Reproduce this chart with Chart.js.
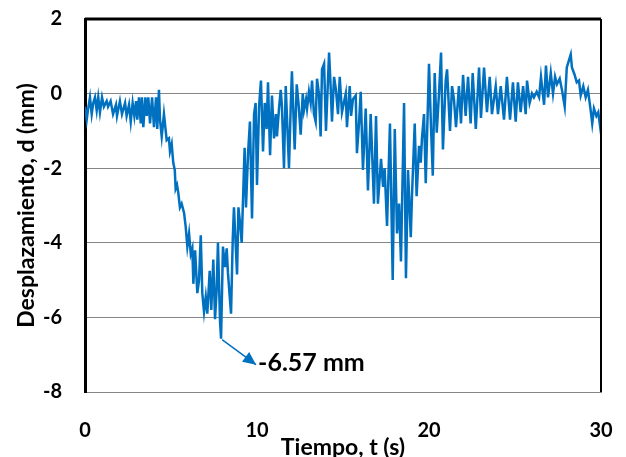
<!DOCTYPE html>
<html>
<head>
<meta charset="utf-8">
<script src="https://cdn.jsdelivr.net/npm/chart.js@4"></script>
<style>
  html, body { margin: 0; padding: 0; background: #fff; }
  #wrap { width: 626px; height: 457px; }
</style>
</head>
<body>
<div id="wrap"><canvas id="dispChart"></canvas></div>
<script>
// tiempo (s) y desplazamiento (mm)
const time = [
  0.00, 0.10, 0.17, 0.29, 0.39, 0.48, 0.58, 0.68, 0.77, 0.87, 0.99, 1.10, 1.26, 1.34, 1.49, 1.63,
  1.80, 1.86, 2.03, 2.15, 2.33, 2.42, 2.56, 2.66, 2.77, 2.87, 2.97, 3.04, 3.14, 3.24, 3.31, 3.39,
  3.51, 3.59, 3.68, 3.78, 3.90, 4.01, 4.13, 4.20, 4.30, 4.36, 4.46, 4.59, 4.75, 4.88, 4.94, 5.04,
  5.13, 5.22, 5.27, 5.35, 5.42, 5.52, 5.62, 5.76, 5.85, 5.95, 6.05, 6.15, 6.24, 6.30, 6.40, 6.53,
  6.63, 6.73, 6.82, 6.92, 7.02, 7.11, 7.25, 7.34, 7.46, 7.56, 7.65, 7.73, 7.85, 7.91, 8.02, 8.14,
  8.24, 8.31, 8.49, 8.59, 8.66, 8.84, 8.92, 9.01, 9.11, 9.19, 9.28, 9.36, 9.48, 9.59, 9.71, 9.83,
  9.92, 10.00, 10.12, 10.23, 10.35, 10.45, 10.56, 10.64, 10.76, 10.87, 10.99, 11.10, 11.16, 11.28, 11.38, 11.45,
  11.57, 11.67, 11.74, 11.86, 11.96, 12.03, 12.19, 12.31, 12.42, 12.54, 12.66, 12.73, 12.85, 12.91, 13.02, 13.12,
  13.20, 13.31, 13.41, 13.49, 13.60, 13.70, 13.78, 13.90, 14.01, 14.19, 14.28, 14.36, 14.48, 14.59, 14.71, 14.81,
  14.94, 15.16, 15.23, 15.39, 15.47, 15.58, 15.74, 15.81, 15.93, 16.03, 16.16, 16.32, 16.45, 16.61, 16.80, 16.92,
  17.03, 17.21, 17.33, 17.42, 17.56, 17.73, 17.89, 18.01, 18.14, 18.26, 18.37, 18.55, 18.66, 18.78, 18.94, 19.01,
  19.17, 19.28, 19.42, 19.52, 19.59, 19.71, 19.81, 19.88, 20.00, 20.12, 20.22, 20.33, 20.45, 20.58, 20.70, 20.81,
  20.97, 21.05, 21.22, 21.34, 21.45, 21.57, 21.74, 21.86, 21.98, 22.13, 22.27, 22.42, 22.54, 22.72, 22.91, 23.02,
  23.20, 23.37, 23.53, 23.66, 23.88, 24.01, 24.17, 24.36, 24.53, 24.71, 24.88, 25.04, 25.17, 25.33, 25.47, 25.62,
  25.70, 25.85, 25.99, 26.10, 26.26, 26.40, 26.51, 26.69, 26.80, 26.92, 27.08, 27.21, 27.33, 27.44, 27.60, 27.73,
  27.89, 28.01, 28.14, 28.24, 28.31, 28.47, 28.59, 28.72, 28.82, 28.97, 29.11, 29.24, 29.40, 29.49, 29.59, 29.73,
  29.84, 29.94, 30.00
];
const disp = [
  -0.35, -0.70, -0.45, -0.10, -0.55, -0.25, -0.10, -0.45, -0.10, -0.50, -0.10, -0.35, -0.20, -0.35, -0.20, -0.55,
  -0.30, -0.60, -0.20, -0.55, -0.25, -0.60, -0.30, -0.75, -0.25, -0.60, -0.20, -0.70, -0.10, -0.80, -0.10, -0.90,
  -0.10, -0.60, -0.10, -0.80, -0.10, -0.90, -0.10, -0.95, 0.10, -0.70, -1.15, -0.55, -1.25, -1.20, -1.55, -1.35,
  -1.85, -2.05, -2.55, -2.45, -2.65, -3.05, -2.95, -3.20, -3.55, -4.10, -3.75, -4.30, -4.15, -5.10, -4.20, -5.35,
  -5.00, -3.80, -5.35, -5.85, -5.45, -5.90, -4.75, -5.80, -4.45, -6.05, -5.30, -4.00, -6.10, -6.57, -4.10, -4.65,
  -4.15, -4.80, -5.90, -3.90, -3.05, -4.85, -3.05, -3.45, -4.00, -2.80, -1.45, -3.05, -1.60, -0.75, -3.35, -0.55,
  -0.25, -2.45, -0.35, 0.35, -1.55, -0.25, -0.95, 0.30, -1.65, -0.05, -1.20, -0.55, -1.15, -0.40, 0.10, -0.35,
  -2.00, 0.20, -0.60, -2.00, -0.35, 0.60, -1.50, 0.25, -0.30, -1.10, 0.00, -0.45, -0.15, -0.40, 0.05, -0.25,
  0.35, -0.55, -0.75, 0.40, 0.00, -1.15, 0.65, 0.80, -1.00, 1.10, 0.20, -0.75, 0.45, 0.10, -0.55, 0.45,
  -0.50, 0.00, -0.90, 0.20, -0.60, -0.15, -0.05, -1.60, -0.80, 0.05, -2.05, -0.40, -2.60, -0.55, -2.95, -0.60,
  -2.95, -1.75, -2.50, -2.00, -3.55, -0.80, -5.00, -0.95, -3.75, -2.95, -4.50, -0.25, -4.95, -2.05, -3.85, -2.75,
  -0.80, -2.75, -1.40, -1.85, -1.20, -0.55, -2.40, -1.25, 0.80, -0.95, -2.20, 0.55, -1.05, 0.00, 1.10, -1.50,
  0.35, 0.65, -1.00, 0.20, -0.15, -0.90, 0.20, -0.80, 0.50, -0.60, 0.45, -0.80, 0.55, -0.95, 0.70, -0.65,
  0.70, -0.50, 0.45, -0.55, 0.20, -0.55, 0.20, -0.70, 0.45, -0.70, 0.30, -0.75, 0.30, -0.50, 0.20, -0.55,
  0.35, -0.25, 0.00, -0.10, 0.05, -0.10, 0.45, -0.30, 0.75, -0.10, 0.55, 0.00, 0.45, 0.25, 0.40, 0.10,
  -0.35, 0.70, 0.90, 1.05, 0.70, 0.50, 0.30, 0.35, -0.05, 0.20, -0.10, 0.10, -0.45, -0.80, -0.40, -0.60,
  -0.50, -0.85, -0.60
];
const xTicks = [0, 10, 20, 30];
const yTicks = [-8, -6, -4, -2, 0, 2];

const points = time.map((t, i) => ({ x: t, y: disp[i] }));

// flecha y etiqueta del valor minimo
const minLabel = {
  id: 'minLabel',
  afterDatasetsDraw(chart) {
    const { ctx, scales: { x, y }, chartArea } = chart;
    let k = 0;
    for (let i = 1; i < disp.length; i++) if (disp[i] < disp[k]) k = i;
    const px = x.getPixelForValue(time[k]);
    const py = y.getPixelForValue(disp[k]);
    const tipX = px + 35, tipY = py + 26;

    ctx.save();
    ctx.strokeStyle = '#0070C0';
    ctx.fillStyle = '#0070C0';
    ctx.lineWidth = 1.5;
    ctx.beginPath();
    ctx.moveTo(px + 1, py + 1);
    ctx.lineTo(tipX, tipY);
    ctx.stroke();
    const ang = Math.atan2(tipY - py, tipX - px);
    const len = 13, half = 6;
    ctx.beginPath();
    ctx.moveTo(tipX, tipY);
    ctx.lineTo(tipX - len * Math.cos(ang) - half * Math.sin(ang), tipY - len * Math.sin(ang) + half * Math.cos(ang));
    ctx.lineTo(tipX - len * Math.cos(ang) + half * Math.sin(ang), tipY - len * Math.sin(ang) - half * Math.cos(ang));
    ctx.closePath();
    ctx.fill();

    ctx.fillStyle = '#000';
    ctx.font = 'bold 25px Lato';
    ctx.textAlign = 'left';
    ctx.textBaseline = 'middle';
    ctx.fillText(disp[k].toFixed(2) + ' mm', tipX + 2, tipY - 2);

    // marco superior y derecho
    ctx.strokeStyle = '#000';
    ctx.lineWidth = 3;
    ctx.beginPath();
    ctx.moveTo(chartArea.left, chartArea.top);
    ctx.lineTo(chartArea.right, chartArea.top);
    ctx.stroke();
    ctx.lineWidth = 2;
    ctx.beginPath();
    ctx.moveTo(chartArea.right, chartArea.top);
    ctx.lineTo(chartArea.right, chartArea.bottom);
    ctx.stroke();
    ctx.restore();
  }
};

const tickFont = { family: 'Lato', size: 20, weight: 'bold' };
const titleFont = { family: 'Lato', size: 23, weight: 'bold' };

new Chart(document.getElementById('dispChart'), {
  type: 'line',
  data: {
    datasets: [{
      data: points,
      borderColor: '#0070C0',
      borderWidth: 2.5,
      pointRadius: 0,
      tension: 0,
      fill: false
    }]
  },
  options: {
    responsive: true,
    maintainAspectRatio: false,
    animation: false,
    layout: { padding: { top: 19, right: 25, bottom: 0, left: 0 } },
    plugins: { legend: { display: false }, tooltip: { enabled: false } },
    scales: {
      x: {
        type: 'linear',
        min: 0, max: 30,
        afterBuildTicks: s => { s.ticks = xTicks.map(v => ({ value: v })); },
        afterFit: s => { s.height = 65; s.paddingLeft = 0; s.paddingRight = 0; },
        grid: { display: false, drawTicks: false },
        border: { display: true, color: '#868686', width: 1 },
        ticks: { color: '#000', font: tickFont, padding: 27, maxRotation: 0 },
        title: { display: true, text: 'Tiempo, t (s)', color: '#000', font: titleFont, padding: { top: 0, bottom: -4 } }
      },
      y: {
        min: -8, max: 2,
        afterBuildTicks: s => { s.ticks = yTicks.map(v => ({ value: v })); },
        afterFit: s => { s.width = 85; s.paddingTop = 0; s.paddingBottom = 0; },
        grid: { color: '#868686', lineWidth: 1, drawTicks: false },
        border: { display: true, color: '#000', width: 3 },
        ticks: { color: '#000', font: tickFont, padding: 23 },
        title: { display: true, text: 'Desplazamiento, d (mm)', color: '#000', font: titleFont, padding: { top: 13, bottom: 0 } }
      }
    }
  },
  plugins: [minLabel]
});
</script>
</body>
</html>
